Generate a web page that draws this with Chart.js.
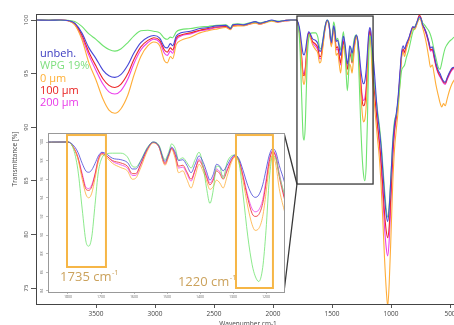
<!DOCTYPE html>
<html><head><meta charset="utf-8">
<script src="https://cdn.jsdelivr.net/npm/chart.js@4"></script>
<style>
html,body{margin:0;padding:0;overflow:hidden;background:#fff;width:454px;height:325px;position:relative}
#c1{position:absolute;left:0;top:0}
#c2{position:absolute;left:38px;top:129px;background:#fff}
#legend{position:absolute;left:40px;top:47px;font-family:"Open Sans";font-size:11px;line-height:12.3px}
#legend div{white-space:nowrap}
</style></head><body>
<canvas id="c1" width="460" height="330"></canvas>
<canvas id="c2" width="247" height="173"></canvas>
<div id="legend"></div>
<script>
// ---------- data ----------
const wavenumbers = [4000,3900,3800,3740,3680,3620,3560,3500,3440,3390,3340,3290,3230,3180,3120,3060,3010,2960,2920,2895,2870,2850,2820,2780,2700,2620,2550,2480,2400,2360,2340,2300,2250,2200,2150,2110,2060,2010,1960,1900,1850,
1800,1785,1770,1757,1745,1737,1728,1718,1708,1697,1685,1665,1640,1620,1605,1595,1580,1560,1542,1525,1506,1495,1486,1475,1465,1452,1440,1427,1415,1403,1390,1380,1370,1360,1350,1340,1330,1318,1305,1294,1282,1270,1255,1242,1233,1222,1210,1200,1190,1180,1170,1160,1145,
1130,1115,1100,1085,1070,1055,1040,1028,1015,1000,985,970,955,940,925,910,897,885,870,850,830,815,800,780,760,745,730,720,700,680,665,650,635,620,600,585,570,555,540,525,505,485,465,440,420];

const unbeh = [100,99.98,100,99.95,99.7,98.8,97.4,96.4,95.3,94.8,94.65,94.9,95.8,96.9,97.9,98.4,98.55,98.3,97.5,97.4,97.8,97.6,98.5,98.8,98.95,99.2,99.3,99.45,99.5,99.2,99.55,99.6,99.55,99.7,99.85,99.7,99.85,100,99.85,99.95,100,
100,99.7,98.9,97.7,96.85,96.75,97.0,97.7,98.5,98.9,98.75,98.25,98.1,97.8,97.1,97.1,97.9,99.3,100,99.6,97.9,98.7,99.45,98.9,98.0,98.1,97.5,96.7,97.6,98.5,97.8,96.8,95.9,96.5,97.6,97.4,96.9,97.5,98.3,98.6,98.2,97.0,95.3,94.3,94.05,94.3,95.4,97.0,98.6,99.3,98.9,97.5,95.8,
93.5,91.3,89.9,88.3,86.0,83.6,81.8,81.2,82.5,85.5,88.5,90.3,91.3,92.8,95.0,97.0,97.6,97.3,97.8,98.3,99.0,99.4,99.3,99.8,100.3,100.1,99.5,99.3,98.8,98.0,97.4,97.5,96.8,96.0,95.3,95.0,94.6,94.3,94.2,94.6,95.1,95.5,95.6,95.8,96.0];

const wpg19 = [100,100,99.98,99.97,99.85,99.4,98.7,98.2,97.6,97.25,97.1,97.3,97.9,98.5,99.0,99.05,98.95,98.8,98.3,98.2,98.4,98.35,98.9,99.1,99.2,99.35,99.4,99.5,99.55,99.3,99.6,99.65,99.6,99.75,99.8,99.75,99.85,99.95,99.9,99.95,100,
100,99.4,97.0,92.8,89.2,88.8,89.8,93.3,96.8,98.3,98.7,98.8,98.8,98.4,97.4,97.3,98.0,99.4,100,99.7,98.1,98.9,99.8,99.3,98.1,98.3,97.8,97.2,98.1,98.9,97.3,95.0,93.4,94.8,97.4,97.3,96.1,97.8,98.5,98.6,97.8,94.5,89.8,86.8,85.6,85.0,86.5,90.5,96.0,98.5,98.2,96.5,94.5,
93.0,91.6,90.3,88.7,86.5,84.2,82.3,81.6,82.8,85.6,88.8,90.6,91.2,92.3,93.8,95.3,95.6,95.8,96.5,97.2,98.2,98.9,99.3,99.8,100.2,100.1,99.7,99.6,99.3,99.0,98.6,98.0,97.2,96.5,95.6,95.4,96.0,96.8,97.4,97.7,98.0,98.2,98.4,98.5,98.5];

const um0 = [100,99.98,100,99.93,99.55,98.2,96.0,94.4,92.6,91.6,91.3,91.7,93.0,94.8,96.6,97.6,97.95,97.6,96.2,96.0,96.6,96.4,97.7,98.1,98.4,98.8,99.0,99.15,99.3,99.1,99.4,99.45,99.45,99.6,99.7,99.6,99.75,99.9,99.8,99.9,99.95,
100,99.5,98.2,96.0,94.3,94.0,94.5,96.1,97.9,98.65,98.4,97.7,97.25,96.9,96.0,96.1,97.2,99.0,99.9,99.5,97.5,98.4,99.2,98.2,96.7,96.9,96.0,95.05,96.3,97.6,96.8,95.8,94.9,95.2,95.9,95.6,95.05,96.3,97.8,98.4,97.8,95.9,93.0,91.1,90.5,90.7,92.0,94.5,97.4,98.6,97.5,95.0,92.7,
90.8,89.0,87.3,84.8,81.5,77.8,74.8,73.3,75.5,80.0,84.8,88.0,89.8,91.5,94.0,96.5,97.0,96.6,97.3,98.0,98.7,99.2,99.1,99.6,100.1,99.9,99.2,98.8,97.8,96.5,95.6,95.8,95.0,94.0,93.0,92.3,91.9,92.2,92.0,92.6,93.4,94.0,94.4,94.6,94.8];

const um100 = [100,99.98,100,99.95,99.65,98.6,97.0,95.7,94.5,93.9,93.7,94.0,95.0,96.3,97.5,98.1,98.35,98.1,97.2,97.0,97.4,97.2,98.3,98.6,98.8,99.05,99.2,99.35,99.4,99.2,99.5,99.55,99.5,99.65,99.8,99.65,99.8,99.95,99.85,99.95,100,
100,99.5,98.3,96.4,94.9,94.8,95.2,96.5,98.1,98.75,98.55,98.0,97.75,97.4,96.6,96.6,97.6,99.2,99.95,99.55,97.7,98.6,99.35,98.6,97.4,97.5,96.8,96.0,97.0,98.0,97.2,96.2,95.4,95.9,96.9,96.6,96.0,96.9,98.0,98.5,98.0,96.3,93.9,92.3,92.0,92.2,93.4,95.5,97.9,99.0,98.3,96.3,94.0,
92.0,90.3,88.8,87.0,84.6,82.0,80.3,79.7,80.8,84.0,87.5,89.8,91.0,92.5,94.6,96.7,97.3,97.0,97.6,98.2,98.9,99.3,99.3,99.8,100.45,100.2,99.5,99.3,98.7,97.9,97.2,97.3,96.6,95.8,95.1,94.8,94.5,94.2,94.1,94.5,95.0,95.4,95.6,95.7,95.9];

const um200 = [100,99.98,100,99.94,99.6,98.4,96.7,95.3,94.0,93.3,93.1,93.4,94.5,95.9,97.2,97.9,98.2,97.9,96.9,96.7,97.1,96.9,98.1,98.5,98.7,99.0,99.1,99.3,99.35,99.15,99.45,99.5,99.5,99.6,99.75,99.6,99.8,99.95,99.8,99.9,99.95,
100,99.55,98.4,96.6,95.1,95.0,95.4,96.6,98.2,98.85,98.6,97.9,97.55,97.2,96.4,96.4,97.5,99.15,99.95,99.5,97.6,98.5,99.3,98.5,97.2,97.3,96.6,95.8,96.9,98.2,97.4,96.4,95.6,96.1,97.1,96.8,96.3,97.1,98.1,98.5,98.0,96.5,94.2,92.8,92.5,92.7,93.8,95.9,98.1,99.1,98.5,96.7,94.2,
92.0,90.2,88.5,86.4,83.7,80.7,78.7,78.0,79.5,83.3,87.0,89.5,90.8,92.3,94.5,96.7,97.2,96.9,97.5,98.1,98.9,99.3,99.2,99.7,100.3,100.1,99.4,99.2,98.6,97.8,97.1,97.2,96.5,95.7,95.0,94.7,94.4,94.1,94.0,94.4,94.9,95.3,95.5,95.6,95.8];

const seriesNames = ['unbeh.', 'WPG 19%', '0 µm', '100 µm', '200 µm'];
const seriesValues = [unbeh, wpg19, um0, um100, um200];

const xTickLabels = [3500, 3000, 2500, 2000, 1500, 1000, 500];
const yTickLabels = [100, 95, 90, 85, 80, 75];
const insetXTickLabels = [1800, 1700, 1600, 1500, 1400, 1300, 1200];
const insetYTickLabels = [100, 98, 96, 94, 92, 90, 88, 86, 84];

const bandLabels = ['1735 cm', '1220 cm'];

// ---------- styles / layout ----------
const lineColors = ['#4646d6', '#6fe36f', '#ffad38', '#ec2626', '#ec40ec'];
const legendColors = ['#3a3ac0', '#7ddf7d', '#ffb036', '#e81e1e', '#e83ae8'];
const mainRange = {xMin: 415.3, xMax: 4008.5, yMin: 73.51, yMax: 100.56};
const insetRange = {xMin: 1145.5, xMax: 1860.6, yMin: 83.87, yMax: 100.97};
const zoomWindow = {from: 1797, to: 1152, top: 100.37, bottom: 84.7};
const bands = [
  {from: 1803, to: 1685, top: 100.75, bottom: 86.56, labelX: 1824, labelY: 85.4},
  {from: 1291, to: 1179, top: 100.75, bottom: 84.3, labelX: 1467, labelY: 84.86}
];
const FONT = 'Open Sans';
const axisColor = '#444';

function datasets(width) {
  return seriesNames.map((name, k) => ({
    label: name,
    data: wavenumbers.map((w, i) => ({x: w, y: seriesValues[k][i]})),
    borderColor: lineColors[k],
    borderWidth: width,
    pointRadius: 0,
    fill: false,
    cubicInterpolationMode: 'monotone',
    xAxisID: 'x', yAxisID: 'y'
  }));
}

function borderOnlyAxis(position, size, horizontal) {
  return {
    type: 'linear', position, display: true,
    ticks: {display: false},
    grid: {display: false, drawTicks: false},
    border: {display: true, color: horizontal ? axisColor : axisColor, width: 1},
    afterFit: s => { if (horizontal) s.height = size; else s.width = size; }
  };
}

// ---------- inset ----------
const bandPlugin = {
  id: 'bands',
  afterDatasetsDraw(chart) {
    const {ctx, scales: {x, y}} = chart;
    ctx.save();
    bands.forEach((b, i) => {
      const x0 = x.getPixelForValue(b.from), x1 = x.getPixelForValue(b.to);
      const y0 = y.getPixelForValue(b.top), y1 = y.getPixelForValue(b.bottom);
      ctx.strokeStyle = '#f6b646';
      ctx.lineWidth = 2;
      ctx.strokeRect(x0, y0, x1 - x0, y1 - y0);
      const tx = x.getPixelForValue(b.labelX), ty = y.getPixelForValue(b.labelY);
      ctx.fillStyle = '#cba25c';
      ctx.textBaseline = 'middle';
      ctx.textAlign = 'left';
      ctx.font = '13px "' + FONT + '"';
      ctx.fillText(bandLabels[i], tx, ty);
      const w = ctx.measureText(bandLabels[i]).width;
      ctx.font = '7.5px "' + FONT + '"';
      ctx.fillText('-1', tx + w + 0.5, ty - 4.5);
    });
    ctx.restore();
  }
};

const insetChart = new Chart(document.getElementById('c2'), {
  type: 'line',
  data: {datasets: datasets(0.8)},
  options: {
    responsive: false, animation: false, events: [],
    layout: {padding: 0},
    plugins: {legend: {display: false}, tooltip: {enabled: false}},
    scales: {
      x: {
        type: 'linear', position: 'bottom', reverse: true,
        min: insetRange.xMin, max: insetRange.xMax,
        afterBuildTicks: s => { s.ticks = insetXTickLabels.map(v => ({value: v})); },
        afterFit: s => { s.height = 10; },
        grid: {display: true, drawOnChartArea: false, tickLength: 2, color: '#888', lineWidth: 0.6},
        border: {display: true, color: '#999', width: 1},
        ticks: {font: {family: FONT, size: 3.6}, color: '#666', padding: 1, autoSkip: false, maxRotation: 0, minRotation: 0, callback: v => String(v)}
      },
      xTop: borderOnlyAxis('top', 4, true),
      y: {
        type: 'linear', position: 'left',
        min: insetRange.yMin, max: insetRange.yMax,
        afterBuildTicks: s => { s.ticks = insetYTickLabels.map(v => ({value: v})); },
        afterFit: s => { s.width = 10; },
        grid: {display: true, drawOnChartArea: false, tickLength: 2, color: '#888', lineWidth: 0.6},
        border: {display: true, color: '#999', width: 1},
        ticks: {font: {family: FONT, size: 3.6}, color: '#666', padding: 1, minRotation: 90, maxRotation: 90, crossAlign: 'center', autoSkip: false, callback: v => String(v)}
      },
      yRight: borderOnlyAxis('right', 1, false)
    }
  },
  plugins: [bandPlugin]
});
insetChart.options.scales.xTop.border.color = '#999';
insetChart.options.scales.yRight.border.color = '#999';
insetChart.update();

// ---------- main ----------
const zoomPlugin = {
  id: 'zoomBox',
  afterDatasetsDraw(chart) {
    const {ctx, scales: {x, y}} = chart;
    const x0 = x.getPixelForValue(zoomWindow.from), x1 = x.getPixelForValue(zoomWindow.to);
    const y0 = y.getPixelForValue(zoomWindow.top), y1 = y.getPixelForValue(zoomWindow.bottom);
    const ia = insetChart.chartArea, cv = insetChart.canvas;
    const ox = cv.offsetLeft, oy = cv.offsetTop;
    ctx.save();
    ctx.strokeStyle = '#383838';
    ctx.lineWidth = 1.3;
    ctx.strokeRect(x0, y0, x1 - x0, y1 - y0);
    ctx.beginPath();
    ctx.moveTo(x0, y1); ctx.lineTo(ox + ia.right, oy + ia.top);
    ctx.moveTo(x0, y1); ctx.lineTo(ox + ia.right, oy + ia.bottom);
    ctx.stroke();
    ctx.restore();
  }
};

new Chart(document.getElementById('c1'), {
  type: 'line',
  data: {datasets: datasets(1.1)},
  options: {
    responsive: false, animation: false, events: [],
    layout: {padding: 0},
    plugins: {legend: {display: false}, tooltip: {enabled: false}},
    scales: {
      x: {
        type: 'linear', position: 'bottom', reverse: true,
        min: mainRange.xMin, max: mainRange.xMax,
        afterBuildTicks: s => { s.ticks = xTickLabels.map(v => ({value: v})); },
        afterFit: s => { s.height = 26; },
        grid: {display: true, drawOnChartArea: false, tickLength: 4, color: '#555'},
        border: {display: true, color: axisColor, width: 1},
        ticks: {font: {family: FONT, size: 6.5}, color: '#444', padding: 2, autoSkip: false, maxRotation: 0, minRotation: 0, callback: v => String(v)},
        title: {display: true, text: 'Wavenumber cm-1', font: {family: FONT, size: 6.5}, color: '#444', padding: {top: 0, bottom: 2}}
      },
      xTop: borderOnlyAxis('top', 14, true),
      y: {
        type: 'linear', position: 'left',
        min: mainRange.yMin, max: mainRange.yMax,
        afterBuildTicks: s => { s.ticks = yTickLabels.map(v => ({value: v})); },
        afterFit: s => { s.width = 36; },
        grid: {display: true, drawOnChartArea: false, tickLength: 5, color: '#555'},
        border: {display: true, color: axisColor, width: 1},
        ticks: {font: {family: FONT, size: 6}, color: '#444', padding: 0, minRotation: 90, maxRotation: 90, crossAlign: 'center', autoSkip: false, callback: v => String(v)},
        title: {display: true, text: 'Transmittance [%]', font: {family: FONT, size: 6.5}, color: '#444', padding: {top: 11, bottom: 0}}
      }
    }
  },
  plugins: [zoomPlugin]
});

// ---------- legend ----------
const lg = document.getElementById('legend');
seriesNames.forEach((n, k) => {
  const d = document.createElement('div');
  d.textContent = n;
  d.style.color = legendColors[k];
  lg.appendChild(d);
});
</script>
</body></html>
